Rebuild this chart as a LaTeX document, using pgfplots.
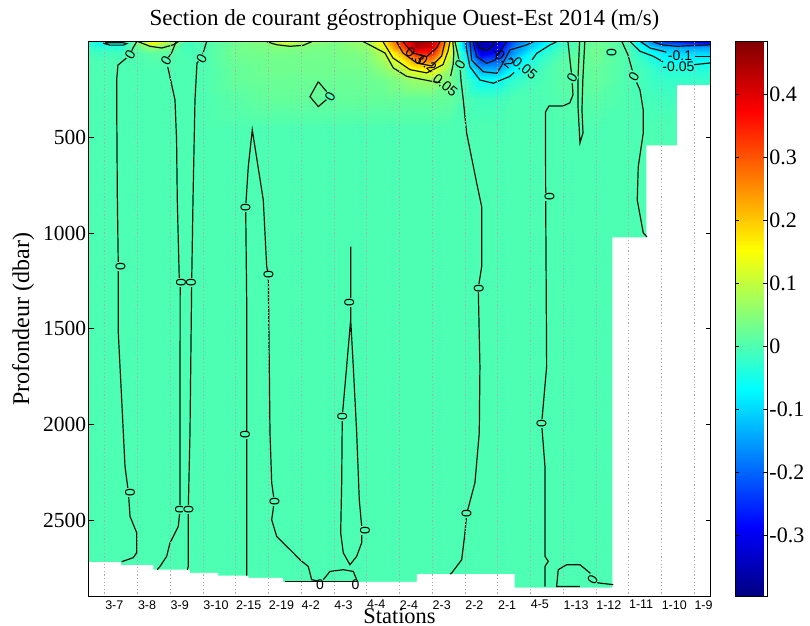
\documentclass[border=0pt]{standalone}
\usepackage{pgfplots}
\pgfplotsset{compat=1.18}
\usepackage{fontspec}
\setmainfont{Liberation Serif}
\newfontfamily\arialf{Liberation Sans}
\definecolor{bgc}{rgb}{0.302,1,0.698}
\definecolor{cline}{rgb}{0.05,0.08,0.05}
\pgfplotsset{cl/.style={draw=cline, line width=0.6pt, mark=none}}
\newcommand\fsTick{\fontsize{10.75}{12}\selectfont}
\newcommand\fsLab{\arialf\fontsize{7}{8}\selectfont}
\begin{document}
\begin{tikzpicture}
\useasboundingbox (-44.25pt,-14.65pt) rectangle (360.75pt,298.35pt);
\begin{axis}[
  at={(0pt,0pt)}, anchor=south west,
  scale only axis, width=311pt, height=277.5pt,
  xmin=0.5, xmax=19.5, ymin=0, ymax=2900, y dir=reverse,
  enlargelimits=false, axis on top,
  colormap/jet, point meta min=-0.397, point meta max=0.484,
  xtick={1,2,...,19},
  xticklabels={3-7,3-8,3-9,3-10,2-15,2-19,4-2,4-3,4-4,2-4,2-3,2-2,2-1,4-5,1-13,1-12,1-11,1-10,1-9},
  xticklabel style={anchor=north west, font=\arialf\fontsize{6.25}{7}\selectfont, inner sep=0pt, yshift=-1.6pt},
  xtick style={draw=none},
  xmajorgrids, grid style={gray!65, line width=0.4pt, dash pattern=on 0.6pt off 1.2pt},
  ytick={500,1000,1500,2000,2500},
  tick align=inside, major tick length=2.5pt,
  ytick style={black, line width=0.4pt},
  yticklabel style={font=\fsTick, inner sep=1pt, /pgf/number format/1000 sep={}, /pgf/number format/assume math mode=true},
  title={Section de courant géostrophique Ouest-Est 2014 (m/s)},
  title style={at={(axis description cs:0.5,1)}, anchor=base, yshift=2.3pt, xshift=2.5pt, font=\fontsize{11.5}{13}\selectfont, inner sep=0pt},
  xlabel={Stations},
  xlabel style={at={(axis description cs:0.5,0)}, anchor=north, yshift=-5.6pt, font=\fontsize{11.2}{13}\selectfont, inner sep=0pt},
  ylabel={Profondeur (dbar)},
  ylabel style={at={(axis description cs:-0.0956,0.5)}, anchor=base, font=\fontsize{12}{14}\selectfont, inner sep=0pt},
  colorbar,
  colorbar style={
    at={(parent axis.north east)}, anchor=north west, xshift=3.75pt,
    scale only axis, width=16pt,
    ytick={-0.3,-0.2,-0.1,0,0.1,0.2,0.3,0.4},
    yticklabels={-0.3,-0.2,-0.1,0,0.1,0.2,0.3,0.4},
    yticklabel style={font=\fontsize{11}{12}\selectfont, inner sep=1pt},
    tick align=inside, major tick length=2pt, ytick pos=both, yticklabel pos=right,
    ytick style={black, line width=0.4pt},
  },
]
% ---------- velocity field (m/s) ----------
\addplot[surf, shader=interp, mesh/cols=33, point meta=explicit] table[x=x, y=y, meta=c, row sep=\\] {
x y c\\
0.5 0 -0.03\\ 1 0 -0.07\\ 1.5 0 -0.07\\ 2 0 0.05\\ 2.5 0 0.16\\ 3 0 0.08\\ 3.5 0 -0.01\\ 4 0 0\\ 5 0 0.03\\ 6 0 0.05\\ 6.5 0 0.12\\ 7 0 0.08\\ 8 0 0.04\\ 9 0 0.07\\ 9.5 0 0.16\\ 10 0 0.32\\ 10.5 0 0.46\\ 11 0 0.43\\ 11.5 0 0.19\\ 12 0 -0.15\\ 12.5 0 -0.37\\ 13 0 -0.32\\ 13.5 0 -0.20\\ 14 0 -0.13\\ 14.5 0 -0.07\\ 15 0 -0.01\\ 16 0 0.03\\ 17 0 0\\ 17.5 0 -0.12\\ 18 0 -0.22\\ 18.5 0 -0.25\\ 19 0 -0.28\\ 19.5 0 -0.30\\
0.5 30 -0.02\\ 1 30 -0.03\\ 1.5 30 -0.03\\ 2 30 0.02\\ 2.5 30 0.06\\ 3 30 0.04\\ 3.5 30 -0.01\\ 4 30 0\\ 5 30 0.03\\ 6 30 0.04\\ 6.5 30 0.05\\ 7 30 0.045\\ 8 30 0.035\\ 9 30 0.06\\ 9.5 30 0.13\\ 10 30 0.28\\ 10.5 30 0.44\\ 11 30 0.41\\ 11.5 30 0.16\\ 12 30 -0.13\\ 12.5 30 -0.36\\ 13 30 -0.31\\ 13.5 30 -0.17\\ 14 30 -0.11\\ 14.5 30 -0.05\\ 15 30 -0.01\\ 16 30 0.03\\ 17 30 0\\ 17.5 30 -0.07\\ 18 30 -0.13\\ 18.5 30 -0.14\\ 19 30 -0.15\\ 19.5 30 -0.15\\
0.5 60 -0.01\\ 1 60 -0.01\\ 1.5 60 -0.01\\ 2 60 0.005\\ 2.5 60 0.015\\ 3 60 0.01\\ 3.5 60 -0.005\\ 4 60 0\\ 5 60 0.03\\ 6 60 0.035\\ 6.5 60 0.035\\ 7 60 0.035\\ 8 60 0.035\\ 9 60 0.045\\ 9.5 60 0.09\\ 10 60 0.20\\ 10.5 60 0.35\\ 11 60 0.35\\ 11.5 60 0.13\\ 12 60 -0.08\\ 12.5 60 -0.31\\ 13 60 -0.27\\ 13.5 60 -0.15\\ 14 60 -0.07\\ 14.5 60 -0.025\\ 15 60 0\\ 16 60 0.03\\ 17 60 0\\ 17.5 60 -0.04\\ 18 60 -0.08\\ 18.5 60 -0.10\\ 19 60 -0.10\\ 19.5 60 -0.10\\
0.5 100 0\\ 1 100 0\\ 1.5 100 0\\ 2 100 0\\ 2.5 100 0.005\\ 3 100 0.005\\ 3.5 100 0\\ 4 100 0\\ 5 100 0.025\\ 6 100 0.03\\ 6.5 100 0.03\\ 7 100 0.03\\ 8 100 0.03\\ 9 100 0.04\\ 9.5 100 0.07\\ 10 100 0.13\\ 10.5 100 0.24\\ 11 100 0.25\\ 11.5 100 0.09\\ 12 100 -0.05\\ 12.5 100 -0.22\\ 13 100 -0.20\\ 13.5 100 -0.10\\ 14 100 -0.04\\ 14.5 100 -0.01\\ 15 100 0.01\\ 16 100 0.025\\ 17 100 0\\ 17.5 100 -0.02\\ 18 100 -0.05\\ 18.5 100 -0.06\\ 19 100 -0.06\\ 19.5 100 -0.06\\
0.5 150 0\\ 1 150 0\\ 1.5 150 0\\ 2 150 0\\ 2.5 150 0\\ 3 150 0\\ 3.5 150 0\\ 4 150 0\\ 5 150 0.02\\ 6 150 0.03\\ 6.5 150 0.03\\ 7 150 0.03\\ 8 150 0.03\\ 9 150 0.03\\ 9.5 150 0.05\\ 10 150 0.08\\ 10.5 150 0.14\\ 11 150 0.15\\ 11.5 150 0.06\\ 12 150 -0.025\\ 12.5 150 -0.13\\ 13 150 -0.13\\ 13.5 150 -0.06\\ 14 150 -0.025\\ 14.5 150 0\\ 15 150 0.01\\ 16 150 0.02\\ 17 150 0\\ 17.5 150 -0.01\\ 18 150 -0.03\\ 18.5 150 -0.035\\ 19 150 -0.035\\ 19.5 150 -0.035\\
0.5 200 0\\ 1 200 0\\ 1.5 200 0\\ 2 200 0\\ 2.5 200 0\\ 3 200 0\\ 3.5 200 0\\ 4 200 0\\ 5 200 0.02\\ 6 200 0.025\\ 6.5 200 0.025\\ 7 200 0.025\\ 8 200 0.025\\ 9 200 0.025\\ 9.5 200 0.03\\ 10 200 0.045\\ 10.5 200 0.065\\ 11 200 0.07\\ 11.5 200 0.04\\ 12 200 -0.01\\ 12.5 200 -0.06\\ 13 200 -0.06\\ 13.5 200 -0.025\\ 14 200 -0.01\\ 14.5 200 0\\ 15 200 0.01\\ 16 200 0.02\\ 17 200 0\\ 17.5 200 -0.01\\ 18 200 -0.02\\ 18.5 200 -0.02\\ 19 200 -0.02\\ 19.5 200 -0.02\\
0.5 300 0\\ 1 300 0\\ 1.5 300 0\\ 2 300 0\\ 2.5 300 0\\ 3 300 0\\ 3.5 300 0\\ 4 300 0\\ 5 300 0.01\\ 6 300 0.02\\ 6.5 300 0.02\\ 7 300 0.02\\ 8 300 0.02\\ 9 300 0.02\\ 9.5 300 0.02\\ 10 300 0.02\\ 10.5 300 0.02\\ 11 300 0.02\\ 11.5 300 0.02\\ 12 300 0\\ 12.5 300 -0.01\\ 13 300 -0.01\\ 13.5 300 0\\ 14 300 0\\ 14.5 300 0\\ 15 300 0.005\\ 16 300 0.01\\ 17 300 0\\ 17.5 300 -0.005\\ 18 300 -0.01\\ 18.5 300 -0.01\\ 19 300 -0.01\\ 19.5 300 -0.01\\
0.5 450 0\\ 1 450 0\\ 1.5 450 0\\ 2 450 0\\ 2.5 450 0\\ 3 450 0\\ 3.5 450 0\\ 4 450 0\\ 5 450 0\\ 6 450 0\\ 6.5 450 0\\ 7 450 0\\ 8 450 0\\ 9 450 0\\ 9.5 450 0\\ 10 450 0\\ 10.5 450 0\\ 11 450 0\\ 11.5 450 0\\ 12 450 0\\ 12.5 450 0\\ 13 450 0\\ 13.5 450 0\\ 14 450 0\\ 14.5 450 0\\ 15 450 0\\ 16 450 0\\ 17 450 0\\ 17.5 450 0\\ 18 450 0\\ 18.5 450 0\\ 19 450 0\\ 19.5 450 0\\
0.5 2900 0\\ 1 2900 0\\ 1.5 2900 0\\ 2 2900 0\\ 2.5 2900 0\\ 3 2900 0\\ 3.5 2900 0\\ 4 2900 0\\ 5 2900 0\\ 6 2900 0\\ 6.5 2900 0\\ 7 2900 0\\ 8 2900 0\\ 9 2900 0\\ 9.5 2900 0\\ 10 2900 0\\ 10.5 2900 0\\ 11 2900 0\\ 11.5 2900 0\\ 12 2900 0\\ 12.5 2900 0\\ 13 2900 0\\ 13.5 2900 0\\ 14 2900 0\\ 14.5 2900 0\\ 15 2900 0\\ 16 2900 0\\ 17 2900 0\\ 17.5 2900 0\\ 18 2900 0\\ 18.5 2900 0\\ 19 2900 0\\ 19.5 2900 0\\
};
% ---------- bottom / land mask ----------
\addplot[fill=white, draw=none] coordinates {
(0.5,2900) (0.5,2719) (1.49,2719) (1.49,2735) (2.48,2735) (2.48,2759) (3.6,2759) (3.6,2776)
(4.46,2776) (4.46,2790) (5.38,2790) (5.38,2802) (6.44,2802) (6.44,2822) (10.53,2822) (10.53,2782)
(13.52,2782) (13.52,2852) (16.5,2852) (16.5,1022) (17.54,1022) (17.54,542) (18.48,542) (18.48,227)
(19.5,227) (19.5,2900) (0.5,2900)};
% ---------- zero contours ----------
\addplot[cl] coordinates {(1.972,0) (1.859,33) (1.768,69) (1.584,96) (1.400,122) (1.360,200) (1.361,304) (1.380,800) (1.410,1175) (1.410,1521) (1.514,1871) (1.615,2219) (1.720,2357) (1.768,2480) (1.972,2566) (1.972,2670) (1.868,2696) (1.514,2717)};
\addplot[cl] coordinates {(3.173,0) (3.050,54) (2.867,101) (2.928,137) (3.142,304) (3.190,513) (3.212,827) (3.273,1244) (3.300,1259) (3.295,2043) (3.295,2445) (3.243,2533) (2.989,2619) (2.888,2689) (2.684,2742) (2.600,2759)};
\addplot[cl] coordinates {(4.110,0) (4.028,43) (3.958,87) (3.814,111) (3.753,304) (3.692,827) (3.652,1259) (3.600,2043) (3.548,2445) (3.548,2742) (3.520,2759)};
\addplot[cl] coordinates {(5.332,2790) (5.332,2054) (5.332,1349) (5.301,865) (5.381,653) (5.503,461) (5.839,827) (5.943,1175) (5.992,1218) (6.044,2043) (6.096,2304) (6.175,2402) (6.096,2498) (6.248,2585) (6.554,2637) (6.755,2671) (6.960,2707) (7.213,2742) (7.317,2811) (7.571,2820)};
\addplot[cl] coordinates {(8.509,1071) (8.509,1453) (8.386,1697) (8.252,1958) (8.234,2304) (8.203,2566) (8.283,2671) (8.487,2733) (8.692,2689) (8.845,2618) (8.845,2533) (8.771,2393) (8.692,2043) (8.588,1697) (8.509,1453)};
\addplot[cl] coordinates {(6.502,2820) (8.692,2820)};
\addplot[cl] coordinates {(7.672,2811) (7.876,2768) (8.283,2759) (8.588,2768) (8.692,2811)};
\addplot[cl] coordinates {(7.519,209) (7.775,261) (7.876,287) (7.519,339) (7.265,287) (7.519,209)};
\addplot[cl] coordinates {(11.694,0) (11.786,69) (11.847,122) (11.877,200) (11.948,304) (12.051,477) (12.357,738) (12.510,862) (12.510,1175) (12.406,1288) (12.457,1697) (12.437,2043) (12.305,2304) (12.051,2468) (12.000,2566) (11.899,2707) (11.594,2776) (11.55,2782)};
\addplot[cl] coordinates {(15.146,0) (15.207,96) (15.268,190) (15.299,278) (15.20,320) (14.993,336) (14.565,336) (14.459,367) (14.465,811) (14.495,1697) (14.342,1996) (14.443,2219) (14.443,2689) (14.544,2715) (14.443,2742) (14.443,2847)};
\addplot[cl] coordinates {(15.50,0) (15.45,200) (15.45,330) (15.513,529) (15.605,477) (15.574,357) (15.60,200) (15.66,0)};
\addplot[cl] coordinates {(15.513,2847) (14.800,2847) (14.849,2759) (15.106,2733) (15.513,2733) (15.819,2776) (15.900,2811) (16.071,2828) (16.529,2837)};
\addplot[cl] coordinates {(16.795,0) (16.978,69) (17.162,181) (17.345,252) (17.446,357) (17.446,477) (17.293,653) (17.262,827) (17.446,999) (17.559,1020)};
% ---------- positive contours ----------
\addplot[cl] coordinates {(8.90,0) (9.556,59) (9.810,137) (10.219,181) (10.983,207) (11.25,214)};
\addplot[cl] coordinates {(11.56,180) (11.64,120) (11.66,60) (11.63,0)};
\addplot[cl] coordinates {(9.495,0) (9.801,85) (10.320,146) (10.830,163) (11.328,120) (11.481,50) (11.542,0)};
\addplot[cl] coordinates {(9.913,0) (10.106,59) (10.524,111) (10.983,127) (11.288,75) (11.389,0)};
\addplot[cl] coordinates {(10.106,0) (10.411,59) (10.830,78) (11.135,33) (11.236,0)};
\addplot[cl] coordinates {(2.021,0) (2.378,24) (2.736,33) (3.090,16) (3.243,0)};
\addplot[cl] coordinates {(5.943,0) (6.248,16) (6.655,24) (7.061,19) (7.317,0)};
% ---------- negative contours ----------
\addplot[cl] coordinates {(0.952,8) (1.157,18) (1.563,18) (1.667,10) (1.55,5) (1.05,5) (0.952,8)};
\addplot[cl] coordinates {(12.02,0) (12.051,43) (12.152,131) (12.457,200) (12.864,217) (13.374,181) (13.5,160)};
\addplot[cl] coordinates {(14.05,95) (14.190,61) (14.596,17) (14.800,0)};
\addplot[cl] coordinates {(12.152,0) (12.204,96) (12.559,157) (12.968,165) (13.10,130) (13.374,43) (13.884,17) (14.086,0)};
\addplot[cl] coordinates {(12.253,0) (12.357,78) (12.662,113) (12.916,96) (13.170,25) (13.273,0)};
\addplot[cl] coordinates {(12.33,0) (12.45,35) (12.70,45) (12.85,20) (12.90,0)};
\addplot[cl] coordinates {(17.05,0) (17.345,50) (17.751,76) (18.05,105)};
\addplot[cl] coordinates {(19.00,120) (19.5,111)};
\addplot[cl] coordinates {(17.37,0) (17.651,33) (18.057,50) (18.15,55)};
\addplot[cl] coordinates {(19.025,76) (19.5,76)};
\addplot[cl] coordinates {(17.742,0) (18.008,16) (18.466,24) (19.5,16)};
% ---------- contour labels ----------
\addplot[only marks, mark=none, nodes near coords, point meta=explicit symbolic,
  nodes near coords style={anchor=center, rotate=90, font=\fsLab, fill=bgc, inner sep=0.2pt}]
coordinates {
(1.48,1175) [0] (1.77,2357) [0]
(3.33,1259) [0] (3.30,2445) [0]
(3.63,1259) [0] (3.56,2445) [0]
(5.30,865) [0] (5.28,2054) [0] (6.00,1218) [0] (6.18,2402) [0]
(8.47,1363) [0] (8.25,1958) [0] (8.95,2555) [0]
(12.42,1288) [0] (12.05,2468) [0]
(14.58,811) [0] (14.34,1996) [0]
(16.48,59) [0]
};
\addplot[only marks, mark=none, nodes near coords, point meta=explicit symbolic,
  nodes near coords style={anchor=center, rotate=60, font=\fsLab, fill=bgc, inner sep=0.2pt}]
coordinates {
(1.77,69) [0] (2.87,101) [0] (3.96,87) [0] (7.88,287) [0]
(11.85,122) [0] (15.27,190) [0] (15.90,2811) [0] (17.16,181) [0]
};
\addplot[only marks, mark=none, nodes near coords, point meta=explicit symbolic,
  nodes near coords style={anchor=center, font=\fsLab, inner sep=0pt}]
coordinates {(7.57,2838) [0] (8.66,2838) [0] (18.57,75) [-0.1] (18.52,130) [-0.05]};
\addplot[only marks, mark=none, nodes near coords, point meta=explicit symbolic,
  nodes near coords style={anchor=center, rotate=-40, font=\fsLab, inner sep=0pt}]
coordinates {(10.47,75) [0.3] (10.85,115) [0.2] (11.40,228) [0.05] (13.16,85) [-0.2] (13.78,131) [-0.05]};
\end{axis}
\end{tikzpicture}
\end{document}
